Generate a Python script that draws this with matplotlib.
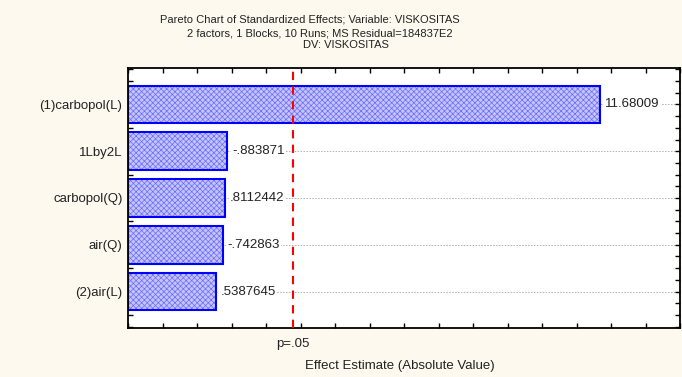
import numpy as np
import matplotlib.pyplot as plt
from matplotlib.ticker import MultipleLocator

plt.rcParams['font.family'] = ['Liberation Sans', 'DejaVu Sans']
plt.rcParams['hatch.linewidth'] = 0.5

factors = ['(1)carbopol(L)', '1Lby2L', 'carbopol(Q)', 'air(Q)', '(2)air(L)']
effects = [11.68009, -0.883871, 0.8112442, -0.742863, 0.5387645]
p_crit = 2.776
x_min, x_max = -2.0, 14.0


def stat_fmt(v):
    s = '%.7g' % v
    return s.replace('-0.', '-.') if s.startswith('-0.') else s.replace('0.', '.', 1) if s.startswith('0.') else s


fs = 9.5
fig = plt.figure(figsize=(6.82, 3.77), dpi=100, facecolor='#fef9ee')
ax = fig.add_axes([128 / 682, 1 - 328 / 377, 552 / 682, 260 / 377])
ax.set_facecolor('white')

ypos = np.arange(len(factors))
absval = np.abs(effects)
for y in ypos:
    ax.axhline(y, color='#b0b0b0', lw=0.7, ls=(0, (1.5, 1.5)), zorder=0)

# dithered fill, then the blue outline on top
ax.barh(ypos, absval - x_min, left=x_min, height=0.81, color='#c4c4fc',
        edgecolor='#6a6aff', hatch='xxxxxx', lw=0, zorder=2)
ax.barh(ypos, absval - x_min, left=x_min, height=0.81, fill=False,
        edgecolor='#0000ff', lw=1.5, zorder=2)
for y, v, a in zip(ypos, effects, absval):
    ax.annotate(stat_fmt(v), (a, y), xytext=(3.5, 0), textcoords='offset points',
                va='center', ha='left', fontsize=fs, color='#222222', zorder=3,
                bbox=dict(boxstyle='square,pad=0.1', fc='white', ec='none'))

ax.axvline(p_crit, color='#ff0000', lw=1.5, ls=(0, (4, 3)), zorder=4)

ax.set_xlim(x_min, x_max)
ax.set_ylim(len(factors) - 1 + 0.78, -0.78)
ax.set_yticks(ypos)
ax.set_yticklabels(factors, fontsize=fs)
ax.yaxis.set_minor_locator(MultipleLocator(0.25))
ax.xaxis.set_major_locator(MultipleLocator(1))
ax.set_xticklabels([])
ax.tick_params(which='both', direction='in', top=True, right=True, length=3.5,
               width=1, pad=4, colors='black', labelcolor='#222222')

for s in ax.spines.values():
    s.set_linewidth(1.3)
    s.set_color('black')

ax.text(p_crit, -0.06, 'p=.05', transform=ax.get_xaxis_transform(),
        ha='center', va='center', fontsize=fs, color='#222222')
fig.text(400 / 682, 1 - 366 / 377, 'Effect Estimate (Absolute Value)',
         ha='center', va='center', fontsize=fs, color='#222222')

fig.text(310 / 682, 1 - 19 / 377, 'Pareto Chart of Standardized Effects; Variable: VISKOSITAS',
         ha='center', va='center', fontsize=8, color='#222222')
fig.text(320 / 682, 1 - 33 / 377, '2 factors, 1 Blocks, 10 Runs; MS Residual=184837E2',
         ha='center', va='center', fontsize=8, color='#222222')
fig.text(346 / 682, 1 - 45 / 377, 'DV: VISKOSITAS',
         ha='center', va='center', fontsize=8, color='#222222')

fig.savefig('out.png', dpi=100, facecolor=fig.get_facecolor())
